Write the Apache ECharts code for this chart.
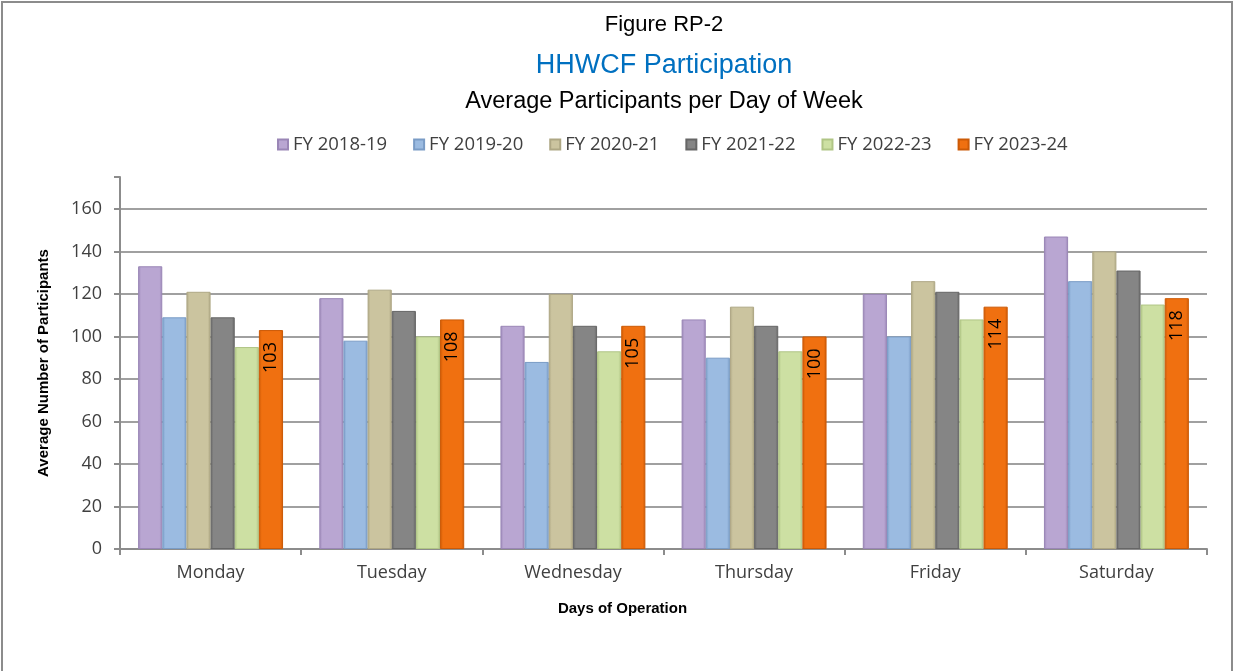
<!DOCTYPE html>
<html>
<head>
<meta charset="utf-8">
<title>HHWCF Participation</title>
<script src="https://cdn.jsdelivr.net/npm/echarts@6/dist/echarts.min.js"></script>
<style>
  html, body { margin: 0; padding: 0; background: #fff; }
  #frame {
    position: absolute; left: 1px; top: 1px; width: 1232px; height: 680px;
    border: 2px solid #8c8c8c; box-sizing: border-box;
  }
  #chart { position: absolute; left: 0; top: 0; width: 1238px; height: 671px; }
</style>
</head>
<body>
<div id="frame"></div>
<div id="chart"></div>
<script>
// chart data
const days = ['Monday', 'Tuesday', 'Wednesday', 'Thursday', 'Friday', 'Saturday']
const fy1819 = [133, 118, 105, 108, 120, 147]
const fy1920 = [109, 98, 88, 90, 100, 126]
const fy2021 = [121, 122, 120, 114, 126, 140]
const fy2122 = [109, 112, 105, 105, 121, 131]
const fy2223 = [95, 100, 93, 93, 108, 115]
const fy2324 = [103, 108, 105, 100, 114, 118]
const yTicks = [0, 20, 40, 60, 80, 100, 120, 140, 160]

const seriesList = [
  { name: 'FY 2018-19', data: fy1819, color: '#b9a6d2', dark: '#9a86b6' },
  { name: 'FY 2019-20', data: fy1920, color: '#9bbbe1', dark: '#7a9cc6' },
  { name: 'FY 2020-21', data: fy2021, color: '#cbc49f', dark: '#aea784' },
  { name: 'FY 2021-22', data: fy2122, color: '#858585', dark: '#666666' },
  { name: 'FY 2022-23', data: fy2223, color: '#cde0a3', dark: '#b0c585' },
  { name: 'FY 2023-24', data: fy2324, color: '#f07010', dark: '#cc5a06' }
]

const font = '"Liberation Sans Narrow", "Liberation Sans", Arial, sans-serif'
const labelFont = '"Open Sans", "DejaVu Sans", sans-serif'

const chart = echarts.init(document.getElementById('chart'))

chart.setOption({
  backgroundColor: 'transparent',
  animation: false,
  title: [
    {
      text: 'Figure RP-2',
      left: 659, top: 9, textAlign: 'center',
      textStyle: { fontFamily: font, fontSize: 22, fontWeight: 'normal', color: '#000' }
    },
    {
      text: 'HHWCF Participation',
      left: 659, top: 47, textAlign: 'center',
      textStyle: { fontFamily: font, fontSize: 27, fontWeight: 'normal', color: '#0070c0' }
    },
    {
      text: 'Average Participants per Day of Week',
      left: 659, top: 85, textAlign: 'center',
      textStyle: { fontFamily: font, fontSize: 23.5, fontWeight: 'normal', color: '#000' }
    }
  ],
  legend: {
    top: 130,
    left: 272,
    itemWidth: 10,
    itemHeight: 10,
    itemGap: 26,
    icon: 'rect',
    textStyle: { fontFamily: labelFont, fontSize: 18.5, color: '#404040' },
    data: seriesList.map(s => s.name)
  },
  grid: {
    left: 120,
    right: 31,
    top: 177,
    bottom: 122,
    containLabel: false
  },
  xAxis: {
    type: 'category',
    data: days,
    name: 'Days of Operation',
    nameLocation: 'middle',
    nameGap: 52,
    nameTextStyle: {
      fontFamily: font, fontSize: 15, fontWeight: 'bold', color: '#000',
      padding: [0, 82, 0, 0]
    },
    axisLine: { lineStyle: { color: '#8c8c8c', width: 2 } },
    axisTick: { show: true, length: 6, lineStyle: { color: '#8c8c8c', width: 2 } },
    axisLabel: { fontFamily: labelFont, fontSize: 18, color: '#404040', margin: 15 }
  },
  yAxis: {
    type: 'value',
    min: 0,
    max: 175,
    interval: 20,
    name: 'Average Number of Participants',
    nameLocation: 'middle',
    nameGap: 69,
    nameTextStyle: { fontFamily: font, fontSize: 15, fontWeight: 'bold', color: '#000' },
    axisLine: { show: true, lineStyle: { color: '#8c8c8c', width: 2 } },
    axisTick: { show: true, length: 6, lineStyle: { color: '#8c8c8c', width: 2 } },
    axisLabel: {
      fontFamily: labelFont, fontSize: 18, color: '#404040', margin: 18,
      formatter: v => (yTicks.indexOf(v) >= 0 ? String(v) : '')
    },
    splitLine: { show: true, showMaxLine: false, lineStyle: { color: '#a0a0a0', width: 2 } }
  },
  series: seriesList.map((s, i) => ({
    name: s.name,
    type: 'bar',
    data: s.data,
    color: s.color,
    barGap: '0%',
    barCategoryGap: '20%',
    itemStyle: {
      color: {
        type: 'linear', x: 0, y: 0, x2: 1, y2: 0,
        colorStops: [
          { offset: 0, color: s.dark },
          { offset: 0.12, color: s.color },
          { offset: 0.88, color: s.color },
          { offset: 1, color: s.dark }
        ]
      },
      borderColor: s.dark,
      borderWidth: 1
    },
    label: i === seriesList.length - 1 ? {
      show: true,
      position: 'insideTop',
      rotate: 90,
      align: 'right',
      verticalAlign: 'middle',
      distance: 12,
      fontFamily: labelFont,
      fontSize: 18,
      color: '#000'
    } : { show: false }
  }))
})
</script>
</body>
</html>
